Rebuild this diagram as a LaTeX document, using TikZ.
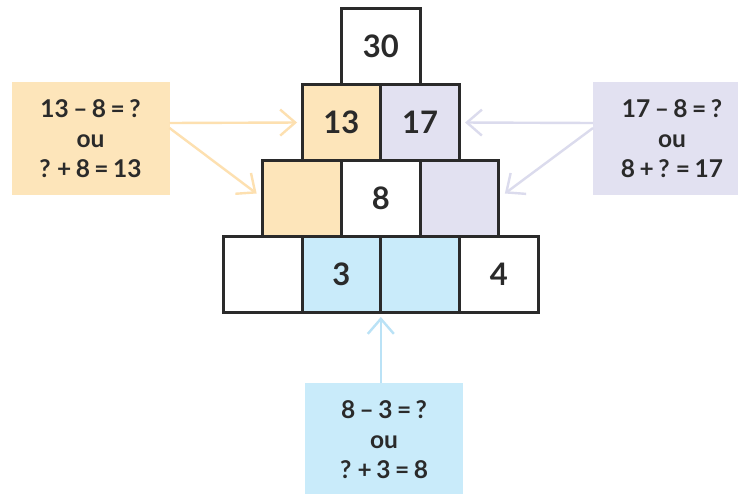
\documentclass[tikz,border=0pt]{standalone}
\usepackage{fontspec}
\setmainfont{Lato}[WordSpace=0.75]
\usetikzlibrary{arrows.meta,calc}

\definecolor{ink}{RGB}{42,42,42}
\definecolor{orangefill}{RGB}{253,229,186}
\definecolor{lavfill}{RGB}{226,225,241}
\definecolor{bluefill}{RGB}{201,235,250}
\definecolor{orangearrow}{RGB}{253,224,176}
\definecolor{lavarrow}{RGB}{219,219,237}
\definecolor{bluearrow}{RGB}{186,226,246}

\tikzset{
  cell/.style={draw=ink, line width=3pt, rectangle, inner sep=0pt, outer sep=0pt,
    minimum width=78.75pt, minimum height=76pt, text=ink,
    font=\fontsize{31}{34}\selectfont\bfseries},
  hint/.style={rectangle, inner sep=0pt, outer sep=0pt, draw=none,
    minimum width=158pt, minimum height=113pt, align=center, text=ink,
    font=\fontsize{24.5}{30}\selectfont\bfseries},
  pointer/.style={line width=2.4pt,
    -{Straight Barb[length=15pt,width=26pt]}},
}

\begin{document}
\begin{tikzpicture}[x=1pt,y=-1pt]
  \useasboundingbox (0,0) rectangle (738,494);
  \fill[white] (0,0) rectangle (738,494);
  \clip (0,0) rectangle (738,494);

  % bottom row
  \node[cell] (c41) at (262.7,274.5) {};
  \node[cell, fill=bluefill] (c42) at (341.4,274.5) {3};
  \node[cell, fill=bluefill] (c43) at (420.2,274.5) {};
  \node[cell] (c44) at (498.9,274.5) {4};
  % third row
  \node[cell, fill=orangefill] (c31) at (302.0,198.5) {};
  \node[cell] (c32) at (380.8,198.5) {8};
  \node[cell, fill=lavfill] (c33) at (459.5,198.5) {};
  % second row
  \node[cell, fill=orangefill] (c21) at (341.4,122.5) {13};
  \node[cell, fill=lavfill] (c22) at (420.2,122.5) {17};
  % top
  \node[cell] (c11) at (380.8,46.5) {30};

  % hint boxes
  \node[hint, fill=orangefill] (lbox) at (90.5,138.5)
    {13 – 8 = ?\\ou\\? + 8 = 13};
  \node[hint, fill=lavfill] (rbox) at (672,138.5)
    {17 – 8 = ?\\ou\\8 + ? = 17};
  \node[hint, fill=bluefill, minimum height=114pt] (bbox) at (384,440)
    {8 – 3 = ?\\ou\\? + 3 = 8};

  % arrow anchors
  \coordinate (l1) at ($(lbox.east)+(0,-15.5)$);
  \coordinate (l2) at ($(lbox.east)+(0,-10.5)$);
  \coordinate (r1) at ($(rbox.west)+(0,-15.5)$);
  \coordinate (r2) at ($(rbox.west)+(0,-10.5)$);
  \coordinate (b1) at (c43.south west |- bbox.north);
  \coordinate (lt) at ($(c31.west)+(-6,-5)$);
  \coordinate (rt) at ($(c33.east)+(6,-5)$);

  \draw[pointer, orangearrow, shorten >=5pt] (l1) -- (c21.west);
  \draw[pointer, orangearrow] (l2) -- (lt);
  \draw[pointer, lavarrow, shorten >=5.5pt] (r1) -- (c22.east);
  \draw[pointer, lavarrow] (r2) -- (rt);
  \draw[pointer, bluearrow, shorten >=4.5pt] (b1) -- (c43.south west);
\end{tikzpicture}
\end{document}
